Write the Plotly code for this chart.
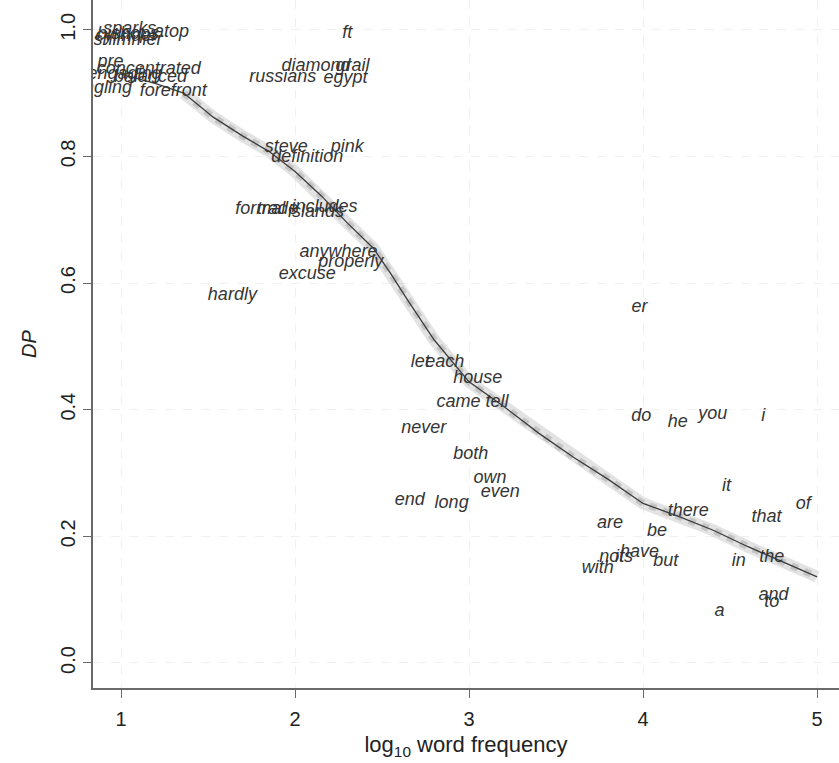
import plotly.graph_objects as go

# Smoothed trend
curve_x = [1.0, 1.2, 1.36, 1.53, 1.7, 1.85, 2.0, 2.15, 2.3, 2.45, 2.55, 2.65,
           2.8, 3.0, 3.2, 3.4, 3.6, 3.8, 4.0, 4.2, 4.4, 4.6, 4.8, 5.0]
curve_y = [0.93, 0.915, 0.90, 0.862, 0.832, 0.808, 0.776, 0.738, 0.695, 0.655, 0.615, 0.572,
           0.51, 0.444, 0.405, 0.363, 0.325, 0.29, 0.252, 0.232, 0.21, 0.184, 0.16, 0.136]

# Words: label, log10 frequency, DP
words = ["sparks", "bishops", "atop", "shimmer", "cylinder",
         "pre", "concentrated", "engaging", "balanced", "tingling", "forefront",
         "ft", "diamond", "grail", "russians", "egypt",
         "steve", "definition", "pink",
         "formal", "trade", "islands", "includes",
         "anywhere", "properly", "excuse", "hardly", "er",
         "let", "each", "house", "came", "tell", "never", "both", "own", "even", "end", "long",
         "do", "he", "you", "i", "it", "there", "of", "that", "are", "be",
         "have", "not", "its", "with", "but", "in", "the", "and", "to", "a"]
freq = [1.05, 1.04, 1.29, 1.04, 1.03,
        0.94, 1.16, 1.02, 1.17, 0.90, 1.30,
        2.30, 2.12, 2.33, 1.93, 2.29,
        1.95, 2.07, 2.30,
        1.80, 1.90, 2.12, 2.17,
        2.25, 2.32, 2.07, 1.64, 3.98,
        2.72, 2.86, 3.05, 2.94, 3.16, 2.74, 3.01, 3.12, 3.18, 2.66, 2.90,
        3.99, 4.20, 4.40, 4.69, 4.48, 4.26, 4.92, 4.71, 3.81, 4.08,
        3.98, 3.82, 3.89, 3.74, 4.13, 4.55, 4.74, 4.75, 4.74, 4.44]
dp = [1.000, 0.993, 0.995, 0.983, 0.989,
      0.949, 0.937, 0.929, 0.924, 0.908, 0.902,
      0.994, 0.942, 0.942, 0.924, 0.923,
      0.814, 0.799, 0.814,
      0.716, 0.716, 0.711, 0.720,
      0.649, 0.632, 0.613, 0.581, 0.561,
      0.474, 0.474, 0.450, 0.412, 0.412, 0.371, 0.329, 0.292, 0.270, 0.257, 0.252,
      0.389, 0.379, 0.392, 0.389, 0.278, 0.239, 0.250, 0.229, 0.221, 0.207,
      0.175, 0.167, 0.167, 0.150, 0.160, 0.160, 0.167, 0.107, 0.096, 0.081]

x_ticks = [1, 2, 3, 4, 5]
y_ticks = [0.0, 0.2, 0.4, 0.6, 0.8, 1.0]
y_tick_labels = ["0.0", "0.2", "0.4", "0.6", "0.8", "1.0"]

FONT = "Liberation Sans, Arial, sans-serif"

fig = go.Figure()
# speckled gray halo around the trend
fig.add_trace(go.Scatter(x=curve_x[2:], y=curve_y[2:], mode="lines",
                         line=dict(color="rgba(185,185,185,0.40)", width=12),
                         hoverinfo="skip", showlegend=False))
fig.add_trace(go.Scatter(x=curve_x[2:], y=curve_y[2:], mode="lines",
                         line=dict(color="rgba(160,160,160,0.45)", width=7, dash="dot"),
                         hoverinfo="skip", showlegend=False))
fig.add_trace(go.Scatter(x=curve_x, y=curve_y, mode="lines",
                         line=dict(color="#3c3c3c", width=1.3),
                         hoverinfo="skip", showlegend=False))
fig.add_trace(go.Scatter(x=freq, y=dp, mode="text", text=words,
                         textposition="middle center",
                         textfont=dict(family=FONT, size=18, color="#353535", style="italic"),
                         showlegend=False))

axis_common = dict(showline=True, linecolor="#6a6a6a", linewidth=1.5,
                   ticks="outside", ticklen=8, tickcolor="#6a6a6a", tickwidth=1.2,
                   showgrid=True, gridcolor="rgba(0,0,0,0.06)", gridwidth=1, griddash="dash",
                   zeroline=False, mirror=False, automargin=False,
                   tickfont=dict(family=FONT, size=20, color="#222"))

fig.update_layout(
    width=839, height=763,
    margin=dict(l=93, r=0, t=0, b=75),
    paper_bgcolor="white", plot_bgcolor="white",
    xaxis=dict(range=[0.839, 5.126], tickvals=x_ticks, ticktext=[str(v) for v in x_ticks],
               ticklabelstandoff=4,
               title=dict(text="log<sub>10</sub> word frequency", standoff=8,
                          font=dict(family=FONT, size=22, color="#222")),
               **axis_common),
    yaxis=dict(range=[-0.0395, 1.047], tickvals=y_ticks, ticktext=y_tick_labels, tickangle=-90,
               title=dict(text="<i>DP</i>", standoff=15,
                          font=dict(family=FONT, size=20, color="#222")),
               **axis_common),
)

fig.write_html("out.html", config={"displayModeBar": False},
               post_script="document.body.style.margin='0';document.body.style.overflow='hidden';")
